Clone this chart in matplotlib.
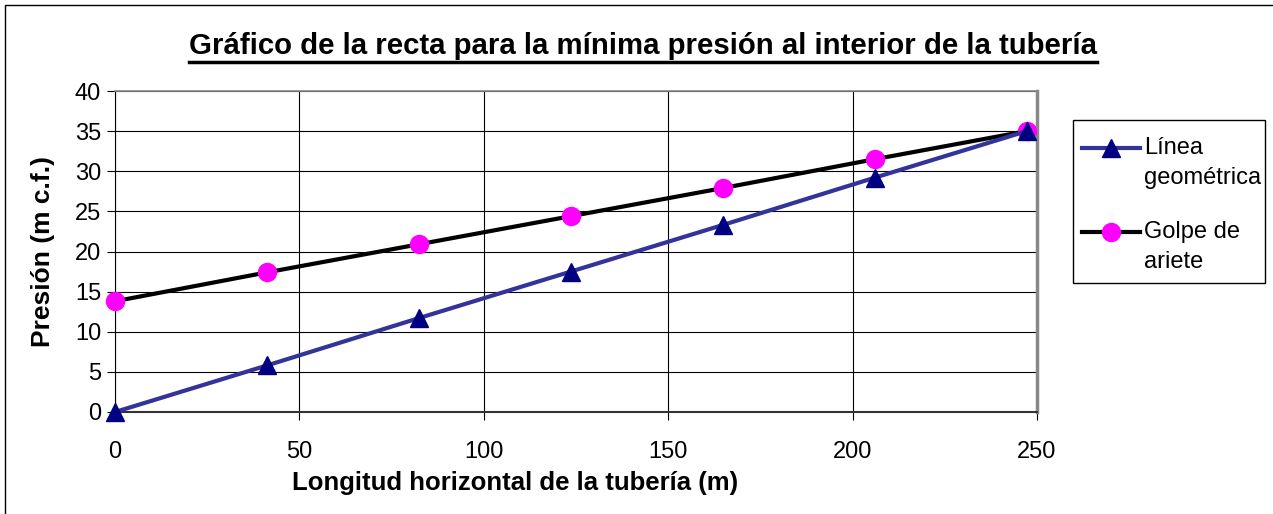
import matplotlib.pyplot as plt
from matplotlib.lines import Line2D
from matplotlib.patches import Rectangle

plt.rcParams['font.family'] = ['Liberation Sans', 'DejaVu Sans']

# longitudes horizontales (m)
longitud = [0, 41.2, 82.4, 123.6, 164.8, 206.0, 247.2]
# presiones (m c.f.)
linea_geometrica = [0, 5.8, 11.7, 17.5, 23.3, 29.2, 35.0]
golpe_ariete = [13.8, 17.4, 20.9, 24.4, 27.9, 31.5, 35.0]

series_labels = ['Línea\ngeométrica', 'Golpe de\nariete']
x_ticks = [0, 50, 100, 150, 200, 250]
y_ticks = [0, 5, 10, 15, 20, 25, 30, 35, 40]

W, H = 1273, 514
fig = plt.figure(figsize=(W / 100, H / 100), dpi=100)
ax = fig.add_axes([115 / W, 1 - 412 / H, (1037 - 115) / W, (412 - 91) / H])

geo_style = dict(color='#333399', lw=3, marker='^', ms=13,
                 mfc='#000080', mec='#000080')
gol_style = dict(color='black', lw=3, marker='o', ms=13,
                 mfc='#FF00FF', mec='#FF00FF')

ax.plot(longitud, golpe_ariete, zorder=3, clip_on=False, **gol_style)
ax.plot(longitud, linea_geometrica, zorder=4, clip_on=False, **geo_style)

ax.set_xlim(0, 250)
ax.set_ylim(0, 40)
ax.set_xticks(x_ticks)
ax.set_yticks(y_ticks)
ax.grid(True, color='black', lw=0.8)
ax.set_axisbelow(True)
ax.tick_params(labelsize=17, length=6, color='black')
ax.tick_params(axis='y', pad=4)
ax.tick_params(axis='x', pad=15)

ax.spines['left'].set_color('black')
ax.spines['bottom'].set_color('#333333')
ax.spines['bottom'].set_linewidth(1.5)
ax.spines['top'].set_color('#888888')
ax.spines['top'].set_linewidth(1.2)
ax.spines['right'].set_color('#888888')
ax.spines['right'].set_linewidth(2.5)

ax.set_xlabel('Longitud horizontal de la tubería (m)', fontsize=18.5,
              fontweight='bold')
ax.xaxis.set_label_coords((515 - 115) / (1037 - 115), -(483 - 412) / (412 - 91))
ax.xaxis.label.set_va('center')
ax.set_ylabel('Presión (m c.f.)', fontsize=19, fontweight='bold', labelpad=14)

# leyenda al estilo Excel (marcador alineado con la primera línea)
fig.add_artist(Rectangle((1073 / W, 1 - 283 / H), (1265 - 1073) / W, (283 - 120) / H,
                         transform=fig.transFigure, fill=False,
                         edgecolor='black', lw=1))
for label, style, y_px in [(series_labels[0], geo_style, 148),
                           (series_labels[1], gol_style, 232)]:
    yf = 1 - y_px / H
    fig.add_artist(Line2D([1082 / W, 1140 / W], [yf, yf], transform=fig.transFigure,
                          color=style['color'], lw=style['lw']))
    fig.add_artist(Line2D([1111 / W], [yf], transform=fig.transFigure, ls='none',
                          marker=style['marker'], ms=style['ms'],
                          mfc=style['mfc'], mec=style['mec']))
    fig.text(1144 / W, 1 - (y_px - 11) / H, label, ha='left', va='top',
             fontsize=17, linespacing=1.48)

title = fig.text(643 / W, 1 - 46 / H,
                 'Gráfico de la recta para la mínima presión al interior de la tubería',
                 ha='center', va='center', fontsize=21.2, fontweight='bold')

# subrayado del título
fig.canvas.draw()
bb = title.get_window_extent().transformed(fig.transFigure.inverted())
fig.add_artist(Line2D([bb.x0, bb.x1], [1 - 62 / H, 1 - 62 / H],
                      transform=fig.transFigure, color='black', lw=2.5))

# marco exterior del gráfico
fig.add_artist(Rectangle((5 / W, -0.1), 1.2, 1 - 5 / H + 0.1,
                         transform=fig.transFigure, fill=False,
                         edgecolor='black', lw=1))

fig.savefig('out.png', dpi=100)
